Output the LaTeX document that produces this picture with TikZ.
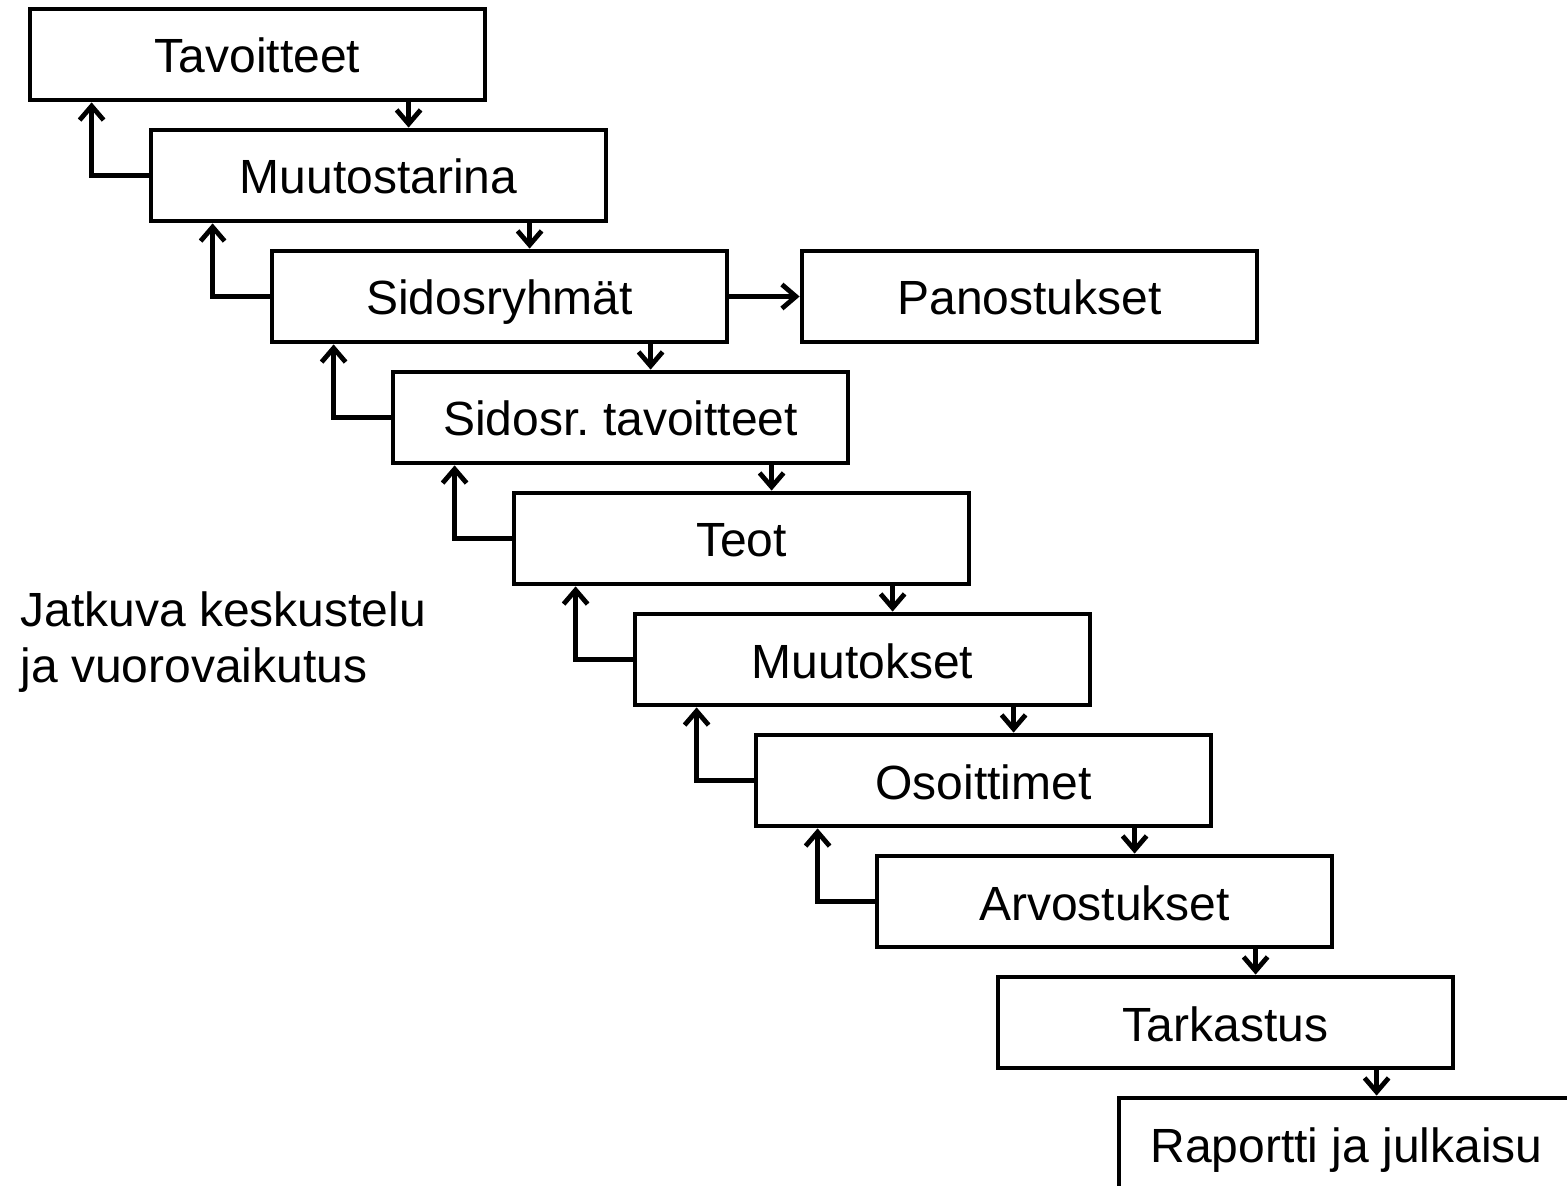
\documentclass[tikz,border=0pt]{standalone}
\usepackage{fontspec}
\setmainfont{Liberation Sans}
\usetikzlibrary{arrows.meta}
\frenchspacing
\begin{document}
\begin{tikzpicture}[x=0.5pt,y=-0.5pt,
  box/.style={draw=black, line width=2.4pt, minimum width=227.5pt, minimum height=45.5pt, inner sep=0pt, text height=18.5pt, text depth=0pt, font=\fontsize{24}{28}\selectfont},
  arr/.style={line width=2.4pt, -{Straight Barb[length=7pt,width=12pt]}},
  lbl/.style={font=\fontsize{24}{28}\selectfont, inner sep=0pt, anchor=base west}]
\useasboundingbox (0,0) rectangle (1567,1186);
\clip (0,0) rectangle (1567,1186);
\fill[white] (0,0) rectangle (1567,1186);
\node[box] (b0) at (257.5,54.5) {Tavoitteet};
\node[box] (b1) at (378.5,175.5) {Muutostarina};
\node[box] (b2) at (499.5,296.5) {Sidosryhmät};
\node[box] (p)  at (1029.5,296.5) {Panostukset};
\node[box] (b3) at (620.5,417.5) {Sidosr. tavoitteet};
\node[box] (b4) at (741.5,538.5) {Teot};
\node[box] (b5) at (862.5,659.5) {Muutokset};
\node[box] (b6) at (983.5,780.5) {Osoittimet};
\node[box] (b7) at (1104.5,901.5) {Arvostukset};
\node[box] (b8) at (1225.5,1022.5) {Tarkastus};
\node[box] (b9) at (1346.5,1143.5) {Raportti ja julkaisu};
\node[lbl] (j1) at (20,626) {Jatkuva keskustelu};
\node[lbl] (j2) at (20,682) {ja vuorovaikutus};
\foreach \a/\b in {b0/b1,b1/b2,b2/b3,b3/b4,b4/b5,b5/b6,b6/b7,b7/b8,b8/b9}{
  \draw[arr] ([xshift=190.5pt]\a.south west) -- ([xshift=190.5pt]\a.south west |- \b.north);
}
\foreach \a/\b in {b0/b1,b1/b2,b2/b3,b3/b4,b4/b5,b5/b6,b6/b7}{
  \draw[arr] (\b.west) -| ([xshift=32pt]\a.south west);
}
\draw[arr] (b2.east) -- (p.west);
\end{tikzpicture}
\end{document}
